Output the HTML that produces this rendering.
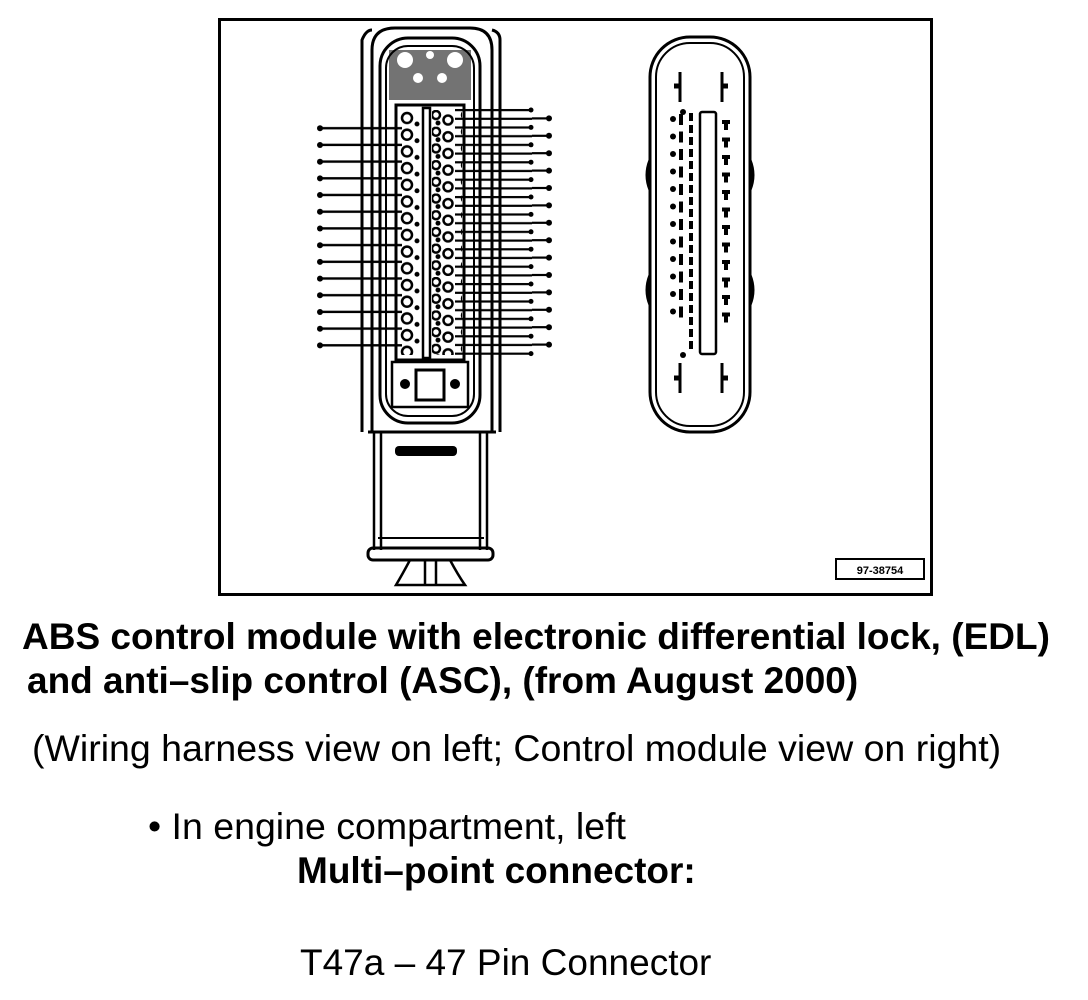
<!DOCTYPE html>
<html><head><meta charset="utf-8"><style>
html,body{margin:0;padding:0;background:#fff;}
body{width:1088px;height:1000px;position:relative;overflow:hidden;font-family:"Liberation Sans",sans-serif;color:#000;}
.t{position:absolute;white-space:nowrap;}
</style></head><body>
<svg width="1088" height="1000" style="position:absolute;left:0;top:0">
<defs>
<pattern id="pinsL" x="400" y="110" width="22" height="16.7" patternUnits="userSpaceOnUse">
<circle cx="7" cy="8" r="5" fill="none" stroke="#000" stroke-width="2.5"/>
<circle cx="17" cy="14" r="2.5" fill="#000"/>
</pattern>
<pattern id="pinsR" x="430" y="110" width="30" height="16.7" patternUnits="userSpaceOnUse">
<circle cx="6" cy="5" r="4" fill="none" stroke="#000" stroke-width="2.5"/>
<circle cx="18" cy="10" r="4.5" fill="none" stroke="#000" stroke-width="2.5"/>
<circle cx="8" cy="13" r="2.5" fill="#000"/>
</pattern>
<pattern id="wL" x="0" y="120" width="10" height="16.7" patternUnits="userSpaceOnUse">
<rect x="0" y="7" width="10" height="2.4" fill="#000"/>
</pattern>
<pattern id="wR" x="0" y="105" width="10" height="17.4" patternUnits="userSpaceOnUse">
<rect x="0" y="4" width="10" height="2.2" fill="#000"/>
<rect x="0" y="12.7" width="10" height="2.2" fill="#000"/>
</pattern>
<pattern id="mL" x="668" y="112" width="20" height="17.5" patternUnits="userSpaceOnUse">
<circle cx="5" cy="7" r="3" fill="#000"/><rect x="11" y="2" width="4" height="11" fill="#000"/>
</pattern>
<pattern id="mC" x="688" y="112" width="6" height="12" patternUnits="userSpaceOnUse">
<rect x="1" y="1" width="4" height="8" fill="#000"/>
</pattern>
<pattern id="mR" x="720" y="118" width="12" height="17.5" patternUnits="userSpaceOnUse">
<rect x="2" y="2" width="8" height="4" fill="#000"/><rect x="4" y="2" width="4" height="10" fill="#000"/>
</pattern>
</defs>
<rect x="219.5" y="19.5" width="712" height="575" fill="none" stroke="#000" stroke-width="3"/>
<path d="M372 432 L372 50 Q372 28 395 28 L470 28 Q492 28 492 50 L492 432 Z" fill="none" stroke="#000" stroke-width="3"/>
<path d="M362 432 L362 40 Q366 30 372 30 M492 30 Q500 32 500 40 L500 432" fill="none" stroke="#000" stroke-width="3"/>
<rect x="380" y="38" width="100" height="385" rx="28" fill="none" stroke="#000" stroke-width="3"/>
<rect x="386" y="46" width="88" height="370" rx="22" fill="none" stroke="#000" stroke-width="2"/>
<rect x="389" y="50" width="82" height="50" fill="#000" opacity="0.55"/>
<circle cx="405" cy="60" r="8" fill="#fff"/><circle cx="455" cy="60" r="8" fill="#fff"/>
<circle cx="430" cy="55" r="4" fill="#fff"/><circle cx="418" cy="78" r="5" fill="#fff"/><circle cx="442" cy="78" r="5" fill="#fff"/>
<rect x="396" y="105" width="68" height="255" fill="none" stroke="#000" stroke-width="3"/>
<rect x="400" y="110" width="22" height="245" fill="url(#pinsL)"/>
<rect x="423" y="108" width="7" height="250" fill="none" stroke="#000" stroke-width="2.5"/>
<rect x="432" y="110" width="30" height="245" fill="url(#pinsR)"/>
<rect x="392" y="362" width="76" height="45" fill="none" stroke="#000" stroke-width="2.5"/>
<rect x="416" y="370" width="28" height="30" fill="none" stroke="#000" stroke-width="3"/>
<circle cx="405" cy="384" r="5" fill="#000"/><circle cx="455" cy="384" r="5" fill="#000"/>
<rect x="322" y="120" width="80" height="234" fill="url(#wL)"/>
<g fill="#000"><circle cx="320" cy="128.3" r="3"/><circle cx="320" cy="145" r="3"/><circle cx="320" cy="161.7" r="3"/><circle cx="320" cy="178.4" r="3"/><circle cx="320" cy="195" r="3"/><circle cx="320" cy="211.8" r="3"/><circle cx="320" cy="228.5" r="3"/><circle cx="320" cy="245.2" r="3"/><circle cx="320" cy="261.9" r="3"/><circle cx="320" cy="278.6" r="3"/><circle cx="320" cy="295.3" r="3"/><circle cx="320" cy="312" r="3"/><circle cx="320" cy="328.7" r="3"/><circle cx="320" cy="345.4" r="3"/></g>
<rect x="455" y="105" width="92" height="250" fill="url(#wR)"/>
<rect x="532" y="105" width="16" height="250" fill="#fff"/>
<g fill="#000">
<rect x="532" y="117.3" width="16" height="2.2"/><rect x="532" y="134.7" width="16" height="2.2"/><rect x="532" y="152.1" width="16" height="2.2"/><rect x="532" y="169.5" width="16" height="2.2"/><rect x="532" y="186.9" width="16" height="2.2"/><rect x="532" y="204.3" width="16" height="2.2"/><rect x="532" y="221.7" width="16" height="2.2"/><rect x="532" y="239.1" width="16" height="2.2"/><rect x="532" y="256.5" width="16" height="2.2"/><rect x="532" y="273.9" width="16" height="2.2"/><rect x="532" y="291.3" width="16" height="2.2"/><rect x="532" y="308.7" width="16" height="2.2"/><rect x="532" y="326.1" width="16" height="2.2"/><rect x="532" y="343.5" width="16" height="2.2"/>
<circle cx="549" cy="118.4" r="3"/><circle cx="549" cy="135.8" r="3"/><circle cx="549" cy="153.2" r="3"/><circle cx="549" cy="170.6" r="3"/><circle cx="549" cy="188" r="3"/><circle cx="549" cy="205.4" r="3"/><circle cx="549" cy="222.8" r="3"/><circle cx="549" cy="240.2" r="3"/><circle cx="549" cy="257.6" r="3"/><circle cx="549" cy="275" r="3"/><circle cx="549" cy="292.4" r="3"/><circle cx="549" cy="309.8" r="3"/><circle cx="549" cy="327.2" r="3"/><circle cx="549" cy="344.6" r="3"/>
<circle cx="531" cy="110" r="2.5"/><circle cx="531" cy="127.4" r="2.5"/><circle cx="531" cy="144.8" r="2.5"/><circle cx="531" cy="162.2" r="2.5"/><circle cx="531" cy="179.6" r="2.5"/><circle cx="531" cy="197" r="2.5"/><circle cx="531" cy="214.4" r="2.5"/><circle cx="531" cy="231.8" r="2.5"/><circle cx="531" cy="249.2" r="2.5"/><circle cx="531" cy="266.6" r="2.5"/><circle cx="531" cy="284" r="2.5"/><circle cx="531" cy="301.4" r="2.5"/><circle cx="531" cy="318.8" r="2.5"/><circle cx="531" cy="336.2" r="2.5"/><circle cx="531" cy="353.6" r="2.5"/>
</g>
<path d="M368 432 L496 432" stroke="#000" stroke-width="3"/>
<rect x="395" y="446" width="62" height="10" rx="4" fill="#000"/>
<path d="M374 432 L374 550 M381 432 L381 550 M480 432 L480 550 M487 432 L487 550" stroke="#000" stroke-width="2.5"/>
<path d="M378 538 L484 538" stroke="#000" stroke-width="2"/>
<rect x="368" y="548" width="125" height="12" rx="5" fill="none" stroke="#000" stroke-width="3"/>
<path d="M410 560 Q402 575 396 585 L465 585 Q458 575 450 560 M425 560 L425 585 M436 560 L436 585" fill="none" stroke="#000" stroke-width="2.5"/>
<rect x="650" y="37" width="100" height="395" rx="40" fill="none" stroke="#000" stroke-width="3"/>
<rect x="656" y="43" width="88" height="383" rx="34" fill="none" stroke="#000" stroke-width="2"/>
<path d="M650 160 Q644 175 650 190 M650 275 Q644 290 650 305 M750 160 Q756 175 750 190 M750 275 Q756 290 750 305" stroke="#000" stroke-width="3" fill="none"/>
<rect x="668" y="112" width="20" height="210" fill="url(#mL)"/>
<rect x="688" y="112" width="6" height="240" fill="url(#mC)"/>
<rect x="700" y="112" width="16" height="242" rx="2" fill="none" stroke="#000" stroke-width="2.5"/>
<rect x="720" y="118" width="12" height="210" fill="url(#mR)"/>
<circle cx="683" cy="112" r="3" fill="#000"/><circle cx="683" cy="355" r="3" fill="#000"/>
<path d="M680 72 L680 102 M722 72 L722 102 M680 363 L680 393 M722 363 L722 393" stroke="#000" stroke-width="3"/>
<path d="M674 86 L680 86 M722 86 L728 86 M674 378 L680 378 M722 378 L728 378" stroke="#000" stroke-width="5"/>
<rect x="836" y="559" width="88" height="20" fill="none" stroke="#000" stroke-width="2"/>
<text x="880" y="574" font-family="Liberation Sans, sans-serif" font-size="11" font-weight="bold" text-anchor="middle">97-38754</text>
</svg>
<div class="t" style="left:22px;top:616px;font-size:37px;font-weight:bold;">ABS control module with electronic differential lock, (EDL)</div>
<div class="t" style="left:27px;top:660px;font-size:37px;font-weight:bold;">and anti–slip control (ASC), (from August 2000)</div>
<div class="t" style="left:32px;top:727px;font-size:37.5px;">(Wiring harness view on left; Control module view on right)</div>
<div class="t" style="left:148px;top:805px;font-size:37.5px;">• In engine compartment, left</div>
<div class="t" style="left:297px;top:850px;font-size:37px;font-weight:bold;">Multi–point connector:</div>
<div class="t" style="left:300px;top:942px;font-size:37px;">T47a – 47 Pin Connector</div>
</body></html>
